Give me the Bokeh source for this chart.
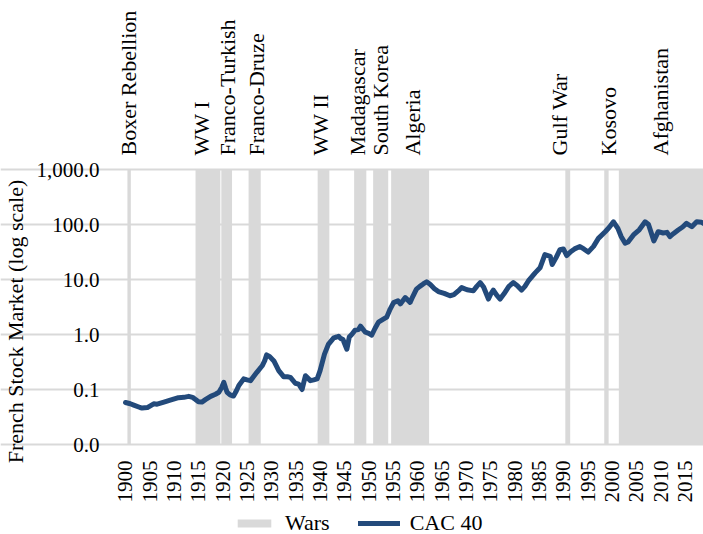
from math import pi, log10
from bokeh.plotting import figure
from bokeh.models import (Range1d, FixedTicker, CustomJSTickFormatter, LinearAxis,
                          Label, Legend, LegendItem)
from bokeh.embed import file_html
from bokeh.resources import INLINE

# ---------------- data ----------------
years = [1900.0, 1901.0, 1901.7, 1903.0, 1903.4, 1904.5, 1905.8, 1906.5, 1907.9, 1909.2,
         1910.9, 1912.0, 1913.0, 1913.8, 1914.4, 1915.0, 1915.7, 1916.5, 1917.5, 1918.5,
         1919.2, 1919.8, 1920.2, 1920.6, 1920.9, 1921.5, 1922.2, 1922.8, 1923.3, 1924.3,
         1925.0, 1925.7, 1926.3, 1927.0, 1928.1, 1928.6, 1929.0, 1929.6, 1930.5, 1931.5,
         1932.5, 1933.3, 1933.9, 1934.9, 1935.6, 1936.3, 1936.7, 1937.0, 1938.0, 1938.7,
         1939.4, 1940.0, 1940.9, 1941.7, 1942.8, 1943.4, 1943.8, 1944.2, 1944.7, 1945.5,
         1946.0, 1946.5, 1947.2, 1947.9, 1948.3, 1949.3, 1950.0, 1950.6, 1951.3, 1952.0,
         1953.0, 1953.7, 1954.4, 1955.1, 1956.0, 1956.5, 1957.5, 1958.5, 1959.1, 1959.8,
         1960.5, 1961.2, 1961.9, 1962.6, 1963.5, 1964.3, 1965.5, 1966.7, 1967.5, 1968.4,
         1969.1, 1970.2, 1971.5, 1972.2, 1972.9, 1973.6, 1974.6, 1975.1, 1975.6, 1976.3,
         1977.0, 1977.8, 1978.8, 1979.7, 1980.5, 1981.4, 1982.1, 1982.8, 1984.2, 1985.2,
         1986.2, 1987.3, 1987.7, 1988.5, 1989.3, 1990.0, 1990.7, 1991.5, 1992.3, 1993.4,
         1994.2, 1995.1, 1996.2, 1997.2, 1998.6, 1999.4, 2000.3, 2001.2, 2001.9, 2002.7,
         2003.3, 2004.4, 2005.6, 2006.8, 2007.5, 2008.6, 2009.5, 2010.5, 2011.3, 2011.9,
         2012.6, 2013.6, 2014.5, 2015.3, 2016.4, 2017.4, 2018.4, 2018.8]
cac40 = [0.058, 0.055, 0.052, 0.047, 0.046, 0.047, 0.055, 0.054, 0.059, 0.064,
         0.071, 0.072, 0.075, 0.072, 0.066, 0.060, 0.059, 0.066, 0.075, 0.082,
         0.089, 0.110, 0.135, 0.105, 0.089, 0.080, 0.076, 0.095, 0.118, 0.156,
         0.150, 0.145, 0.170, 0.205, 0.27, 0.33, 0.425, 0.40, 0.33, 0.22,
         0.171, 0.17, 0.166, 0.13, 0.125, 0.10, 0.14, 0.178, 0.145, 0.15,
         0.156, 0.22, 0.44, 0.66, 0.87, 0.90, 0.93, 0.85, 0.81, 0.54,
         0.9, 1.0, 1.2, 1.23, 1.42, 1.1, 1.05, 0.97, 1.3, 1.68,
         1.9, 2.07, 2.9, 3.8, 4.1, 3.6, 4.7, 3.84, 5.0, 6.67,
         7.5, 8.3, 9.1, 8.2, 6.8, 6.04, 5.6, 5.06, 5.3, 6.2,
         7.13, 6.5, 6.22, 7.5, 8.77, 7.3, 4.41, 5.5, 6.4, 5.2,
         4.41, 5.5, 7.5, 8.77, 7.8, 6.4, 7.5, 9.4, 13.2, 16.3,
         28.3, 26.4, 18.7, 25.0, 34.8, 36.0, 27.2, 32.0, 36.0, 39.8,
         36.0, 31.5, 40.0, 56.0, 74.0, 88.0, 112.0, 85.0, 60.0, 45.6,
         48.0, 64.6, 80.0, 112.0, 100.0, 50.4, 74.0, 70.0, 72.0, 60.2,
         68.0, 79.4, 90.0, 105.0, 91.0, 112.0, 110.0, 104.0]

war_names = ["Boxer Rebellion", "WW I", "Franco-Turkish", "Franco-Druze", "WW II",
             "Madagascar", "South Korea", "Algeria", "Gulf War", "Kosovo", "Afghanistan"]
war_start = [1900.4, 1914.4, 1919.7, 1925.3, 1939.5, 1947.0, 1950.9, 1954.6, 1990.4, 1998.4, 2001.4]
war_end = [1901.1, 1919.5, 1921.9, 1927.8, 1941.9, 1949.5, 1954.0, 1962.4, 1991.4, 1999.3, 2019.0]

x_ticks = [1900, 1905, 1910, 1915, 1920, 1925, 1930, 1935, 1940, 1945, 1950, 1955,
           1960, 1965, 1970, 1975, 1980, 1985, 1990, 1995, 2000, 2005, 2010, 2015]
x_tick_labels = ["1900", "1905", "1910", "1915", "1920", "1925", "1930", "1935", "1940",
                 "1945", "1950", "1955", "1960", "1965", "1970", "1975", "1980", "1985",
                 "1990", "1995", "2000", "2005", "2010", "2015"]
y_ticks = [0.01, 0.1, 1, 10, 100, 1000]
y_tick_labels = ["0.0", "0.1", "1.0", "10.0", "100.0", "1,000.0"]
y_title = "French Stock Market (log scale)"

# ---------------- style / layout ----------------
FONT = "Liberation Serif"
TXT = "#000000"
GRAY = "#D9D9D9"
BLUE = "#234A7B"
W, H = 703, 534
BT = 157                          # top border holds the war labels
PLOT_TOP_PX = 169                 # pixel row of the highest y tick
GRID_LEFT_PX = 124                # where the plotted area (grid lines) starts
PLOT_BOTTOM_PX = 444              # pixel row of the lowest y tick
XS, X1 = 1899.8, 2018.8           # plotted year span (grid lines)
YMIN, YMAX = y_ticks[0], y_ticks[-1]
PPY = (W - GRID_LEFT_PX) / (X1 - XS)                                  # px per year
X0 = XS - GRID_LEFT_PX / PPY                                          # frame starts at left edge
DEC = (PLOT_BOTTOM_PX - PLOT_TOP_PX) / (log10(YMAX) - log10(YMIN))   # px per decade
Y0 = 10 ** (log10(YMIN) - (H - PLOT_BOTTOM_PX) / DEC)                # frame floor (legend area)
Y1 = 10 ** (log10(YMAX) + (PLOT_TOP_PX - BT) / DEC)                  # frame ceiling


def px_x(px):
    return X0 + px / PPY


def px_y(py):
    return 10 ** (log10(YMAX) - (py - PLOT_TOP_PX) / DEC)


def label_formatter(ticks, labels):
    return CustomJSTickFormatter(
        args=dict(tv=ticks, tl=labels),
        code="""
        for (let i = 0; i < tv.length; i++) {
            if (Math.abs(tv[i] - tick) <= 1e-6 * Math.abs(tv[i])) return tl[i];
        }
        return "";
        """)


def plain_axis(ax, size="21px"):
    ax.axis_line_color = None
    ax.major_tick_line_color = None
    ax.minor_tick_line_color = None
    ax.major_tick_out = 0
    ax.major_tick_in = 0
    ax.major_label_text_font = FONT
    ax.major_label_text_font_size = size
    ax.major_label_text_color = TXT


p = figure(width=W, height=H, output_backend="svg", toolbar_location=None,
           x_range=Range1d(X0, X1), y_range=Range1d(Y0, Y1), y_axis_type="log",
           min_border_left=0, min_border_right=0, min_border_top=BT,
           min_border_bottom=0)
p.outline_line_color = None
p.background_fill_color = "white"
p.border_fill_color = "white"

bands = p.quad(left=war_start, right=war_end, bottom=YMIN, top=YMAX,
               fill_color=GRAY, line_color=None)
line = p.line(years, cac40, line_color=BLUE, line_width=5, line_join="round",
              line_cap="round")

# main axes, pinned to the corner of the plotted area
p.xaxis.ticker = FixedTicker(ticks=x_ticks)
p.xaxis.formatter = label_formatter(x_ticks, x_tick_labels)
p.xaxis.major_label_orientation = pi / 2
p.xaxis.major_label_standoff = 16
p.xaxis.fixed_location = YMIN
p.yaxis.ticker = FixedTicker(ticks=y_ticks)
p.yaxis.formatter = label_formatter(y_ticks, y_tick_labels)
p.yaxis.major_label_standoff = 25
p.yaxis.fixed_location = XS
plain_axis(p.xaxis[0])
plain_axis(p.yaxis[0])

p.xgrid.grid_line_color = None
p.ygrid.grid_line_color = GRAY
p.ygrid.grid_line_width = 2
p.ygrid.bounds = (XS, X1)

# y-axis title
p.add_layout(Label(x=px_x(15), y=px_y(321), text=y_title, angle=pi / 2,
                   text_align="center", text_baseline="middle",
                   text_font=FONT, text_font_size="22px", text_color=TXT))

# war labels as a top axis
label_dx = [-1, -6, 1, 2, -3, -3, 0, 2, -8, 2, -1]
label_x = [(s + e) / 2 + dx / PPY for s, e, dx in zip(war_start, war_end, label_dx)]
war_axis = LinearAxis(ticker=FixedTicker(ticks=label_x),
                      formatter=label_formatter(label_x, war_names),
                      major_label_orientation=pi / 2, major_label_standoff=2)
plain_axis(war_axis, "22px")
p.add_layout(war_axis, "above")

legend = Legend(items=[LegendItem(label="Wars", renderers=[bands]),
                       LegendItem(label="CAC 40", renderers=[line])],
                orientation="horizontal", location=(233, -2),
                label_text_font=FONT, label_text_font_size="22px",
                label_text_color=TXT, glyph_width=42, glyph_height=10,
                label_standoff=10, spacing=28, padding=0, margin=0,
                label_height=20, border_line_color=None,
                background_fill_alpha=0)
p.add_layout(legend)

open("out.html", "w").write(file_html(p, INLINE))
